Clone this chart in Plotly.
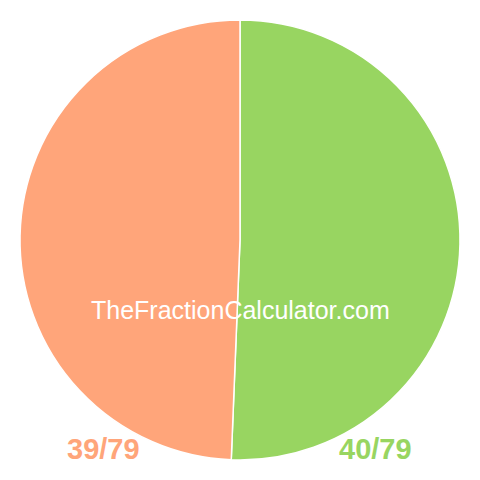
import plotly.graph_objects as go

labels = ["40/79", "39/79"]
values = [40, 39]
colors = ["#98D561", "#FFA57A"]
watermark = "TheFractionCalculator.com"

W = H = 480
OFF = 8  # page body margin


def px(x):
    return (x - OFF) / W


def py(y):
    return 1 - (y - OFF) / H


fig = go.Figure(go.Pie(
    labels=labels, values=values, sort=False, direction="clockwise", rotation=0,
    marker=dict(colors=colors, line=dict(color="white", width=1.5)),
    textinfo="none", hoverinfo="none",
    domain=dict(x=[px(20), px(460)], y=[py(460), py(20)]),
))

fig.add_annotation(x=px(240), y=py(310), xref="paper", yref="paper",
                   xanchor="center", yanchor="middle",
                   text=watermark, showarrow=False,
                   font=dict(family="Liberation Sans, Arial", size=25, color="white"))
fig.add_annotation(x=px(103.5), y=py(449), xref="paper", yref="paper",
                   xanchor="center", yanchor="middle",
                   text="<b>%s</b>" % labels[1], showarrow=False,
                   font=dict(family="Liberation Sans, Arial", size=29, color=colors[1]))
fig.add_annotation(x=px(375.5), y=py(449), xref="paper", yref="paper",
                   xanchor="center", yanchor="middle",
                   text="<b>%s</b>" % labels[0], showarrow=False,
                   font=dict(family="Liberation Sans, Arial", size=29, color=colors[0]))

fig.update_layout(width=W, height=H, margin=dict(l=0, r=0, t=0, b=0),
                  showlegend=False, paper_bgcolor="white", plot_bgcolor="white")
fig.write_html("out.html")
